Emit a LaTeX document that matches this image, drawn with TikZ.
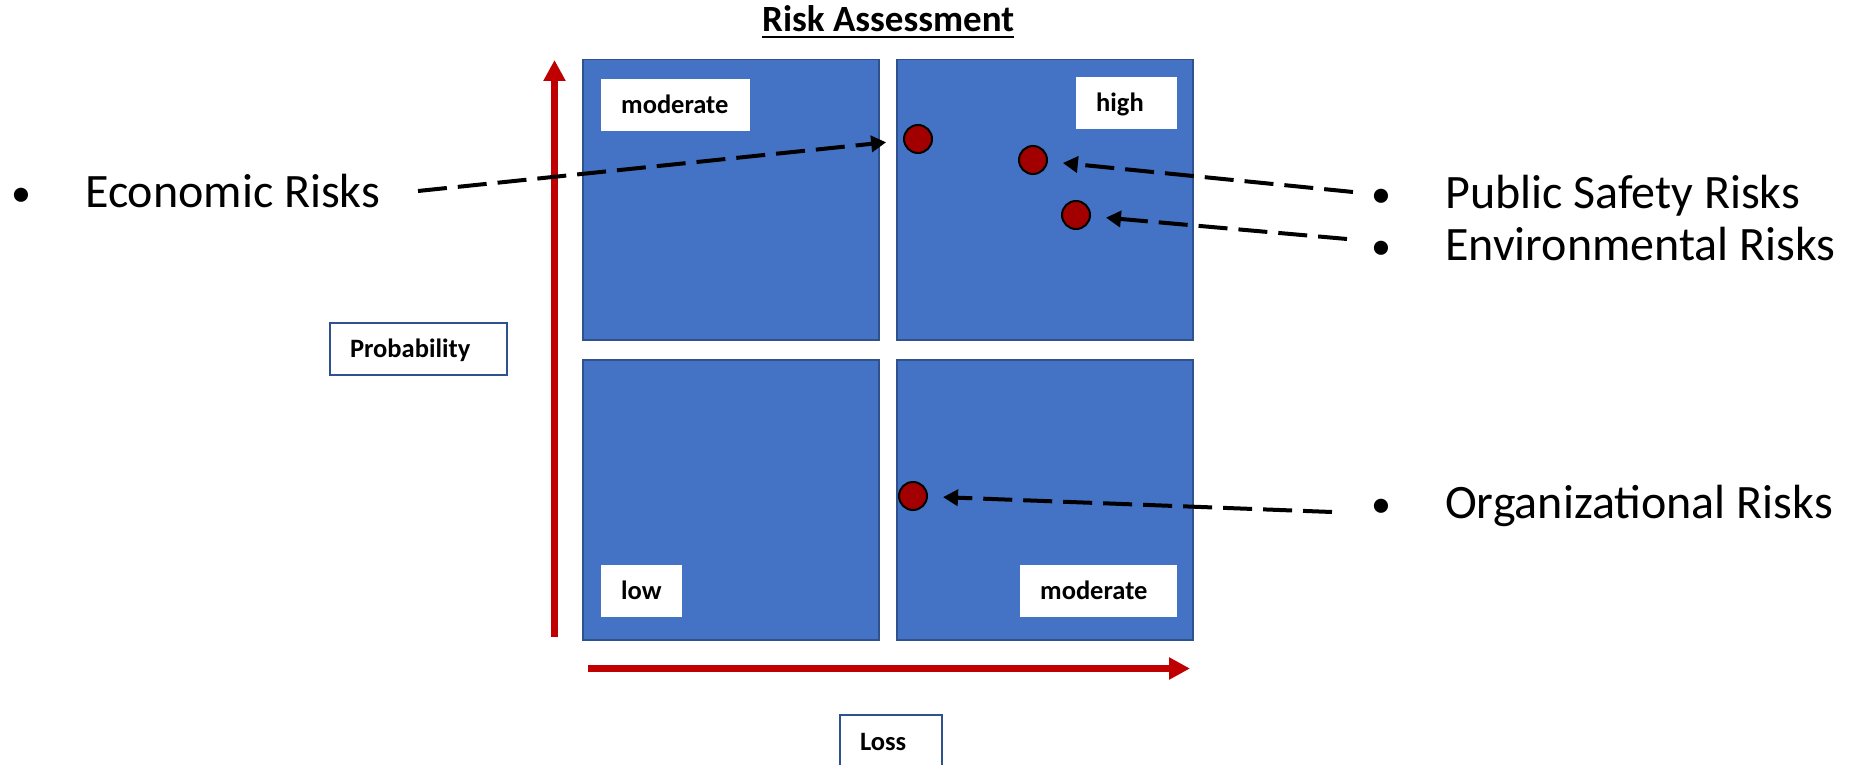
\documentclass[tikz,border=0pt]{standalone}
\usepackage{fontspec}
\setmainfont{Carlito}
\usetikzlibrary{arrows.meta}
\definecolor{boxblue}{HTML}{4472C4}
\definecolor{boxedge}{HTML}{2F528F}
\definecolor{axisred}{HTML}{C00000}
\definecolor{dotred}{HTML}{A20000}
\begin{document}
\begin{tikzpicture}[x=1pt,y=-1pt,
  quad/.style={draw=boxedge, fill=boxblue, line width=1.5pt, inner sep=0pt, anchor=north west, minimum width=296pt, minimum height=280pt},
  lbl/.style={fill=white, inner xsep=20pt, inner ysep=0pt, anchor=north west, minimum height=52pt, align=left, font=\fontsize{26.5}{30}\selectfont\bfseries, text height=20pt, text depth=4pt},
  axisbox/.style={lbl, draw=boxedge, line width=2pt},
  dot/.style={circle, fill=dotred, draw=black, line width=2pt, minimum size=28pt, inner sep=0pt},
  axisarrow/.style={draw=axisred, line width=7pt, -{Triangle[length=21pt,width=21pt]}},
  pointer/.style={draw=black, line width=4pt, dash pattern=on 29pt off 11pt, -{Triangle[length=15pt,width=16pt]}, shorten >=15pt},
  itemtext/.style={font=\fontsize{48}{56}\selectfont, anchor=base west, inner sep=0pt},
  bullet/.style={font=\fontsize{40}{48}\selectfont, anchor=base, inner sep=0pt}
]
\useasboundingbox (0,0) rectangle (1855,765);

% title
\node[font=\fontsize{37}{44}\selectfont\bfseries, anchor=base west, inner sep=0pt] (title) at (762,32) {Risk Assessment};
\draw[line width=2.7pt] ([yshift=-5pt]title.base west) -- ([yshift=-5pt]title.base east);

% quadrants
\node[quad] (qtl) at (582,59) {};
\node[quad] (qtr) at (896,59) {};
\node[quad] (qbl) at (582,359) {};
\node[quad] (qbr) at (896,359) {};

% quadrant labels
\node[lbl, text width=109pt] (ltl) at (601,79) {moderate};
\node[lbl, text width=61pt] (ltr) at (1076,77) {high};
\node[lbl, text width=41pt] (lbl) at (601,565) {low};
\node[lbl, text width=117pt] (lbr) at (1020,565) {moderate};

% axes
\coordinate (vstart) at (554.5,637);
\coordinate (vend) at (554.5,60);
\coordinate (hstart) at (588,668.5);
\coordinate (hend) at (1190,668.5);
\draw[axisarrow] (vstart) -- (vend);
\draw[axisarrow] (hstart) -- (hend);

\node[axisbox, text width=137pt] (prob) at (329,322) {Probability};
\node[axisbox, text width=62pt, minimum height=54pt] (loss) at (839,714) {Loss};

% risk dots
\node[dot] (decon) at (918,139) {};
\node[dot] (dsafe) at (1033,160) {};
\node[dot] (denv) at (1076,215) {};
\node[dot] (dorg) at (913,496) {};

% item texts
\node[bullet] (b1) at (21,206) {•};
\node[itemtext] (t1) at (85,207) {Economic Risks};
\node[bullet] (b2) at (1381,207) {•};
\node[itemtext] (t2) at (1445,208) {Public Safety Risks};
\node[bullet] (b3) at (1381,259) {•};
\node[itemtext] (t3) at (1445,260) {Environmental Risks};
\node[bullet] (b4) at (1381,517) {•};
\node[itemtext] (t4) at (1445,518) {Organizational Risks};

% pointers
\coordinate (p1) at (418,191);
\coordinate (p2) at (1353,192);
\coordinate (p3) at (1347,239);
\coordinate (p4) at (1332,512);
\draw[pointer, shorten >=17pt] (p1) -- (decon);
\draw[pointer] (p2) -- (dsafe);
\draw[pointer] (p3) -- (denv);
\draw[pointer] (p4) -- (dorg);
\end{tikzpicture}
\end{document}
